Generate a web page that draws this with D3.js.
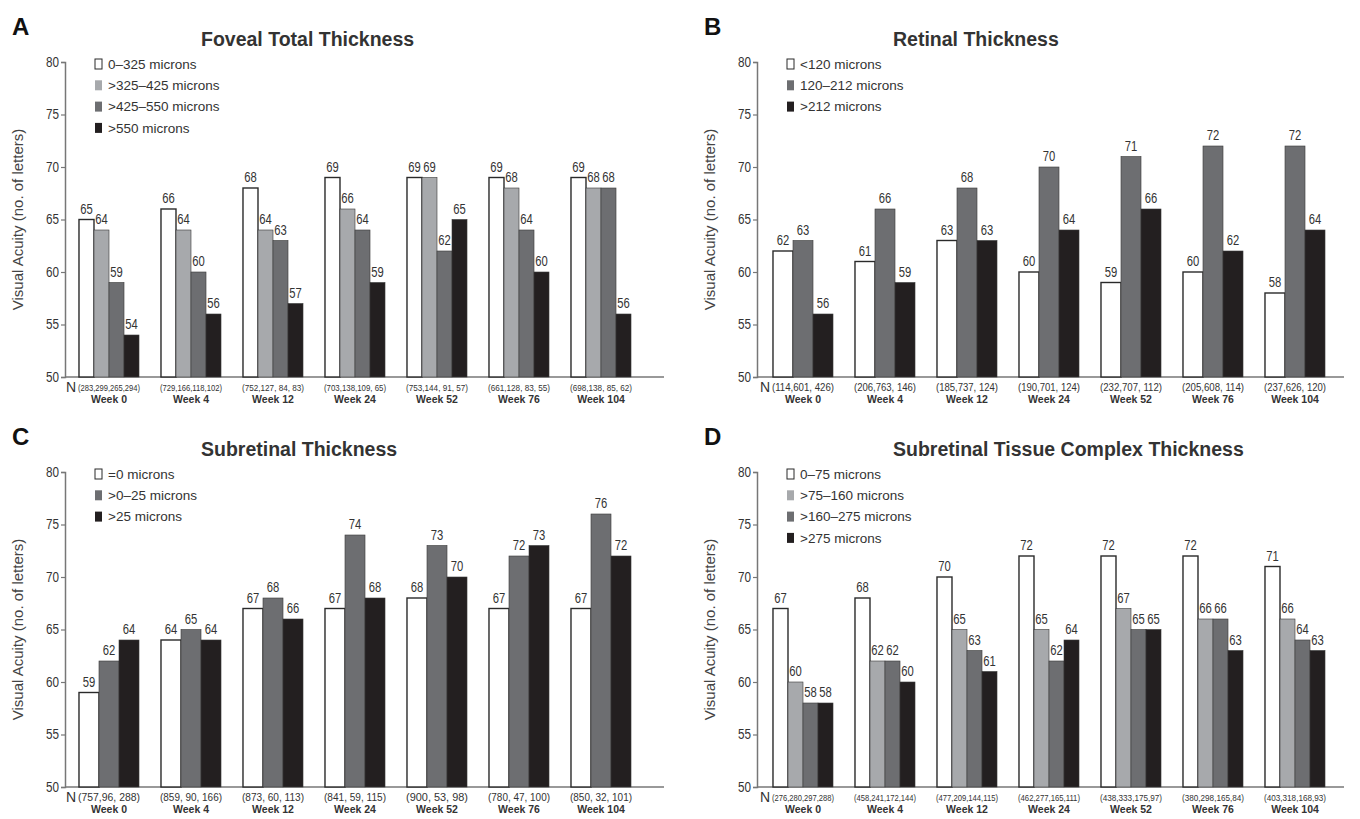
<!DOCTYPE html>
<html>
<head>
<meta charset="utf-8">
<script src="https://cdn.jsdelivr.net/npm/d3@7"></script>
<style>
  html, body { margin: 0; padding: 0; background: #fff; }
  svg { display: block; }
  text { font-family: "Liberation Sans", Arial, sans-serif; }
</style>
</head>
<body>
<svg id="chart" width="1360" height="819"></svg>
<script>
// ---------- DATA ----------
const weeks = ["Week 0", "Week 4", "Week 12", "Week 24", "Week 52", "Week 76", "Week 104"];
const yTicks = [50, 55, 60, 65, 70, 75, 80];
const yLabel = "Visual Acuity (no. of letters)";

// A: Foveal Total Thickness
const fovealSeries = ["0–325 microns", ">325–425 microns", ">425–550 microns", ">550 microns"];
const fovealValues = [
  [65, 66, 68, 69, 69, 69, 69],
  [64, 64, 64, 66, 69, 68, 68],
  [59, 60, 63, 64, 62, 64, 68],
  [54, 56, 57, 59, 65, 60, 56]
];
const fovealN = ["(283,299,265,294)", "(729,166,118,102)", "(752,127, 84, 83)", "(703,138,109, 65)", "(753,144, 91, 57)", "(661,128, 83, 55)", "(698,138, 85, 62)"];

// B: Retinal Thickness
const retinalSeries = ["<120 microns", "120–212 microns", ">212 microns"];
const retinalValues = [
  [62, 61, 63, 60, 59, 60, 58],
  [63, 66, 68, 70, 71, 72, 72],
  [56, 59, 63, 64, 66, 62, 64]
];
const retinalN = ["(114,601, 426)", "(206,763, 146)", "(185,737, 124)", "(190,701, 124)", "(232,707, 112)", "(205,608, 114)", "(237,626, 120)"];

// C: Subretinal Thickness
const subretinalSeries = ["=0 microns", ">0–25 microns", ">25 microns"];
const subretinalValues = [
  [59, 64, 67, 67, 68, 67, 67],
  [62, 65, 68, 74, 73, 72, 76],
  [64, 64, 66, 68, 70, 73, 72]
];
const subretinalN = ["(757,96, 288)", "(859, 90, 166)", "(873, 60, 113)", "(841, 59, 115)", "(900, 53,  98)", "(780, 47, 100)", "(850, 32, 101)"];

// D: Subretinal Tissue Complex Thickness
const stcSeries = ["0–75 microns", ">75–160 microns", ">160–275 microns", ">275 microns"];
const stcValues = [
  [67, 68, 70, 72, 72, 72, 71],
  [60, 62, 65, 65, 67, 66, 66],
  [58, 62, 63, 62, 65, 66, 64],
  [58, 60, 61, 64, 65, 63, 63]
];
const stcN = ["(276,280,297,288)", "(458,241,172,144)", "(477,209,144,115)", "(462,277,165,111)", "(438,333,175,97)", "(380,298,165,84)", "(403,318,168,93)"];

// ---------- STYLE ----------
const WHITE = "#ffffff", LIGHT = "#a7a9ac", DARK = "#6d6e71", BLACK = "#231f20";
const TEXT = "#333333";

const panels = [
  { letter: "A", title: "Foveal Total Thickness", series: fovealSeries, values: fovealValues, n: fovealN,
    colors: [WHITE, LIGHT, DARK, BLACK], axisX: 65, right: 664, y50: 377, nSize: 8 },
  { letter: "B", title: "Retinal Thickness", series: retinalSeries, values: retinalValues, n: retinalN,
    colors: [WHITE, DARK, BLACK], axisX: 757, right: 1344, y50: 377, nSize: 10 },
  { letter: "C", title: "Subretinal Thickness", series: subretinalSeries, values: subretinalValues, n: subretinalN,
    colors: [WHITE, DARK, BLACK], axisX: 65, right: 664, y50: 787, nSize: 10 },
  { letter: "D", title: "Subretinal Tissue Complex Thickness", series: stcSeries, values: stcValues, n: stcN,
    colors: [WHITE, LIGHT, DARK, BLACK], axisX: 757, right: 1344, y50: 787, nSize: 8 }
];

const svg = d3.select("#chart");

panels.forEach(p => {
  const g = svg.append("g");
  const y80 = p.y50 - 315;
  const y = d3.scaleLinear().domain([50, 80]).range([p.y50, y80]);
  const bandStart = p.axisX + 3 + (p.letter === "A" || p.letter === "C" ? 0 : 2);
  const x = d3.scaleBand().domain(weeks)
    .range([bandStart, bandStart + 574])
    .paddingInner(0.268).paddingOuter(0.134);
  const xs = d3.scaleBand().domain(d3.range(p.series.length)).range([0, x.bandwidth()]);

  // Panel letter
  g.append("text").attr("x", p.axisX - 53).attr("y", y80 - 27)
    .attr("font-size", 24).attr("font-weight", "bold").attr("fill", "#111").text(p.letter);

  // Title
  g.append("text").attr("x", p.axisX + 136).attr("y", y80 - 16)
    .attr("font-size", 19.5).attr("font-weight", "bold").attr("fill", TEXT).text(p.title);

  // Y axis
  const yAxis = d3.axisLeft(y).tickValues(yTicks).tickSize(4).tickPadding(2);
  const ya = g.append("g").attr("transform", `translate(${p.axisX},0)`).call(yAxis);
  ya.select(".domain").attr("stroke", "#777").attr("stroke-width", 1.5);
  ya.selectAll(".tick line").attr("stroke", "#777").attr("stroke-width", 1.2);
  ya.selectAll(".tick text").attr("font-size", 14).attr("fill", TEXT)
    .attr("font-family", null)
    .attr("textLength", 13).attr("lengthAdjust", "spacingAndGlyphs");

  // Y label
  g.append("text")
    .attr("transform", `translate(${p.axisX - 47},${(p.y50 + y80) / 2}) rotate(-90)`)
    .attr("text-anchor", "middle").attr("dy", "0.35em")
    .attr("font-size", 15).attr("fill", "#444").text(yLabel);

  // X axis line
  g.append("line").attr("x1", p.axisX).attr("x2", p.right)
    .attr("y1", p.y50).attr("y2", p.y50)
    .attr("stroke", "#777").attr("stroke-width", 1.5);

  // Bars
  p.series.forEach((s, si) => {
    const sg = g.append("g");
    sg.selectAll("rect").data(p.values[si]).join("rect")
      .attr("x", (d, i) => x(weeks[i]) + xs(si))
      .attr("y", d => y(d))
      .attr("width", xs.bandwidth())
      .attr("height", d => p.y50 - y(d))
      .attr("fill", p.colors[si])
      .attr("stroke", p.colors[si] === WHITE ? "#2a2a2a" : "#3a3a3a")
      .attr("stroke-width", p.colors[si] === WHITE ? 1.4 : 0.6);
    sg.selectAll("text").data(p.values[si]).join("text")
      .attr("x", (d, i) => x(weeks[i]) + xs(si) + xs.bandwidth() / 2)
      .attr("y", d => y(d) - 6)
      .attr("text-anchor", "middle")
      .attr("font-size", 14).attr("fill", TEXT)
      .attr("textLength", 12.5).attr("lengthAdjust", "spacingAndGlyphs")
      .text(d => d);
  });

  // X labels: N counts and week
  g.append("text").attr("x", bandStart - 2).attr("y", p.y50 + 15)
    .attr("font-size", 14).attr("fill", TEXT).text("N");
  weeks.forEach((w, i) => {
    const cx = x(w) + x.bandwidth() / 2;
    g.append("text").attr("x", cx).attr("y", p.y50 + 14)
      .attr("text-anchor", "middle").attr("font-size", p.nSize + 1).attr("fill", TEXT)
      .attr("textLength", 62).attr("lengthAdjust", "spacingAndGlyphs")
      .text(p.n[i]);
    g.append("text").attr("x", cx).attr("y", p.y50 + 25.5)
      .attr("text-anchor", "middle").attr("font-size", 10.5).attr("font-weight", "bold")
      .attr("fill", TEXT).text(w);
  });

  // Legend
  const leg = g.append("g");
  p.series.forEach((s, si) => {
    const ry = y80 + 2 + si * 21.3;
    leg.append("rect").attr("x", p.axisX + 30).attr("y", ry - 5).attr("width", 7).attr("height", 10)
      .attr("fill", p.colors[si]).attr("stroke", p.colors[si] === WHITE ? "#2a2a2a" : "none")
      .attr("stroke-width", 1);
    leg.append("text").attr("x", p.axisX + 43).attr("y", ry).attr("dy", "0.35em")
      .attr("font-size", 13.5).attr("fill", TEXT).text(s);
  });
});
</script>
</body>
</html>
